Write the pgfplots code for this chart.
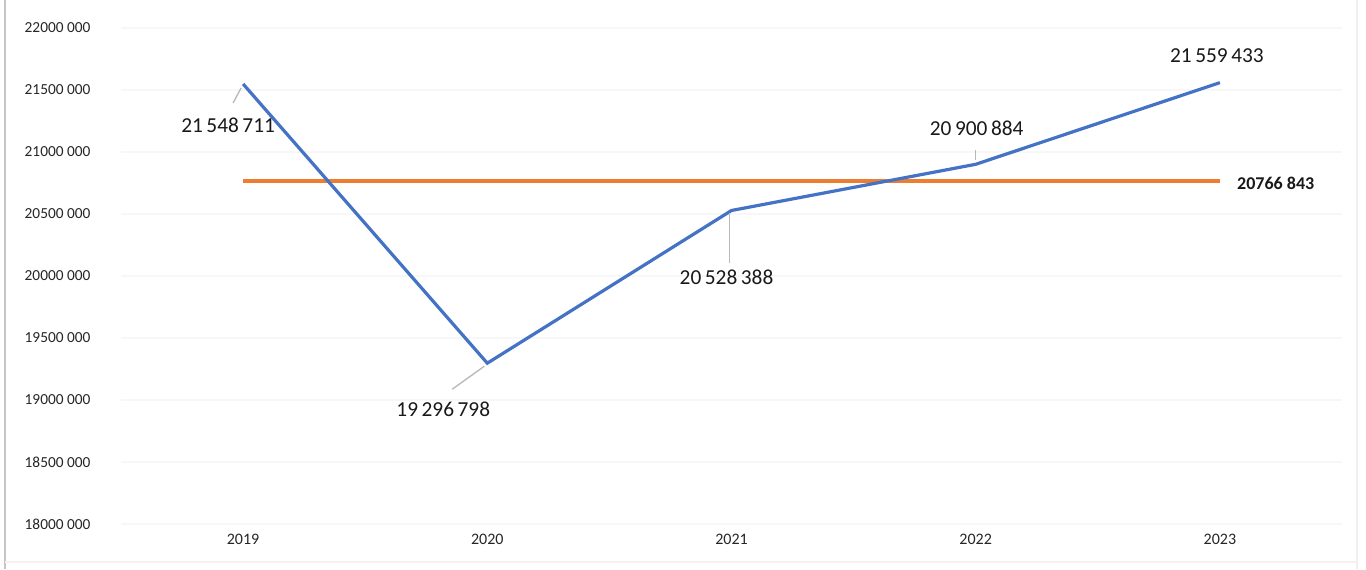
\documentclass[border=0pt]{standalone}
\usepackage{pgfplots}
\pgfplotsset{compat=1.18}
\usepackage{fontspec}
\setmainfont{Carlito}
\definecolor{xblue}{RGB}{68,114,196}
\definecolor{xorange}{RGB}{237,125,49}
\definecolor{lead}{RGB}{185,185,185}
\begin{document}
\begin{tikzpicture}
\useasboundingbox (0,0) rectangle (1024.5pt,426.75pt);
\fill[white] (0,0) rectangle (1024.5pt,426.75pt);
\draw[gray!45,line width=1.2pt] (3.75pt,0) -- (3.75pt,426.75pt);
\draw[gray!12,line width=1pt] (1017.75pt,0) -- (1017.75pt,426.75pt);
\draw[gray!10,line width=0.8pt] (3.75pt,5.25pt) -- (1017.75pt,5.25pt);
\begin{axis}[
  at={(90.75pt,33.75pt)}, anchor=south west,
  scale only axis, width=915.75pt, height=372pt,
  xmin=-0.5, xmax=4.5, ymin=18000000, ymax=22000000,
  scaled y ticks=false,
  axis line style={draw=none},
  tick style={draw=none},
  xtick={0,1,2,3,4},
  xticklabels={2019,2020,2021,2022,2023},
  ytick={18000000,18500000,19000000,19500000,20000000,20500000,21000000,21500000,22000000},
  yticklabels={18000 000,18500 000,19000 000,19500 000,20000 000,20500 000,21000 000,21500 000,22000 000},
  yticklabel style={font=\fontsize{11.5}{13}\selectfont, text=black!85, anchor=west, xshift=-75.75pt},
  xticklabel style={font=\fontsize{12}{14}\selectfont, text=black!85, yshift=-4pt},
  ymajorgrids, grid style={draw=gray!6, line width=0.8pt},
  clip=false,
]
\addplot[xorange, line width=2.4pt] coordinates {(0,20766843) (4,20766843)};
\addplot[xblue, line width=2.4pt] coordinates {
  (0,21548711) (1,19296798) (2,20528388) (3,20900884) (4,21559433)};
% leader lines
\draw[lead, line width=1pt] ([xshift=-7.5pt,yshift=-14.25pt]axis cs:0,21548711) -- ([xshift=-1.5pt,yshift=-3pt]axis cs:0,21548711);
\draw[lead, line width=1pt] ([xshift=-26.25pt,yshift=-19.5pt]axis cs:1,19296798) -- ([xshift=-2.25pt,yshift=-2.25pt]axis cs:1,19296798);
\draw[lead, line width=1pt] ([xshift=-1.5pt,yshift=-2.25pt]axis cs:2,20528388) -- ([xshift=-1.5pt,yshift=-39.75pt]axis cs:2,20528388);
\draw[lead, line width=1pt] ([yshift=10.5pt]axis cs:3,20900884) -- ([yshift=3pt]axis cs:3,20900884);
% data labels
\node[font=\fontsize{16}{18}\selectfont, text=black!90, inner sep=0pt] at ([xshift=-11.25pt,yshift=-30.75pt]axis cs:0,21548711) {21\,548\,711};
\node[font=\fontsize{16}{18}\selectfont, text=black!90, inner sep=0pt] at ([xshift=-33pt,yshift=-34.5pt]axis cs:1,19296798) {19\,296\,798};
\node[font=\fontsize{16}{18}\selectfont, text=black!90, inner sep=0pt] at ([xshift=-3.75pt,yshift=-50.25pt]axis cs:2,20528388) {20\,528\,388};
\node[font=\fontsize{16}{18}\selectfont, text=black!90, inner sep=0pt] at ([xshift=0.75pt,yshift=27pt]axis cs:3,20900884) {20\,900\,884};
\node[font=\fontsize{16}{18}\selectfont, text=black!90, inner sep=0pt] at ([xshift=-2.25pt,yshift=20pt]axis cs:4,21559433) {21\,559\,433};
\node[font=\bfseries\fontsize{13.5}{15}\selectfont, text=black!90, inner sep=0pt, anchor=west] at ([xshift=12.75pt,yshift=-1.5pt]axis cs:4,20766843) {20766 843};
\end{axis}
\end{tikzpicture}
\end{document}
